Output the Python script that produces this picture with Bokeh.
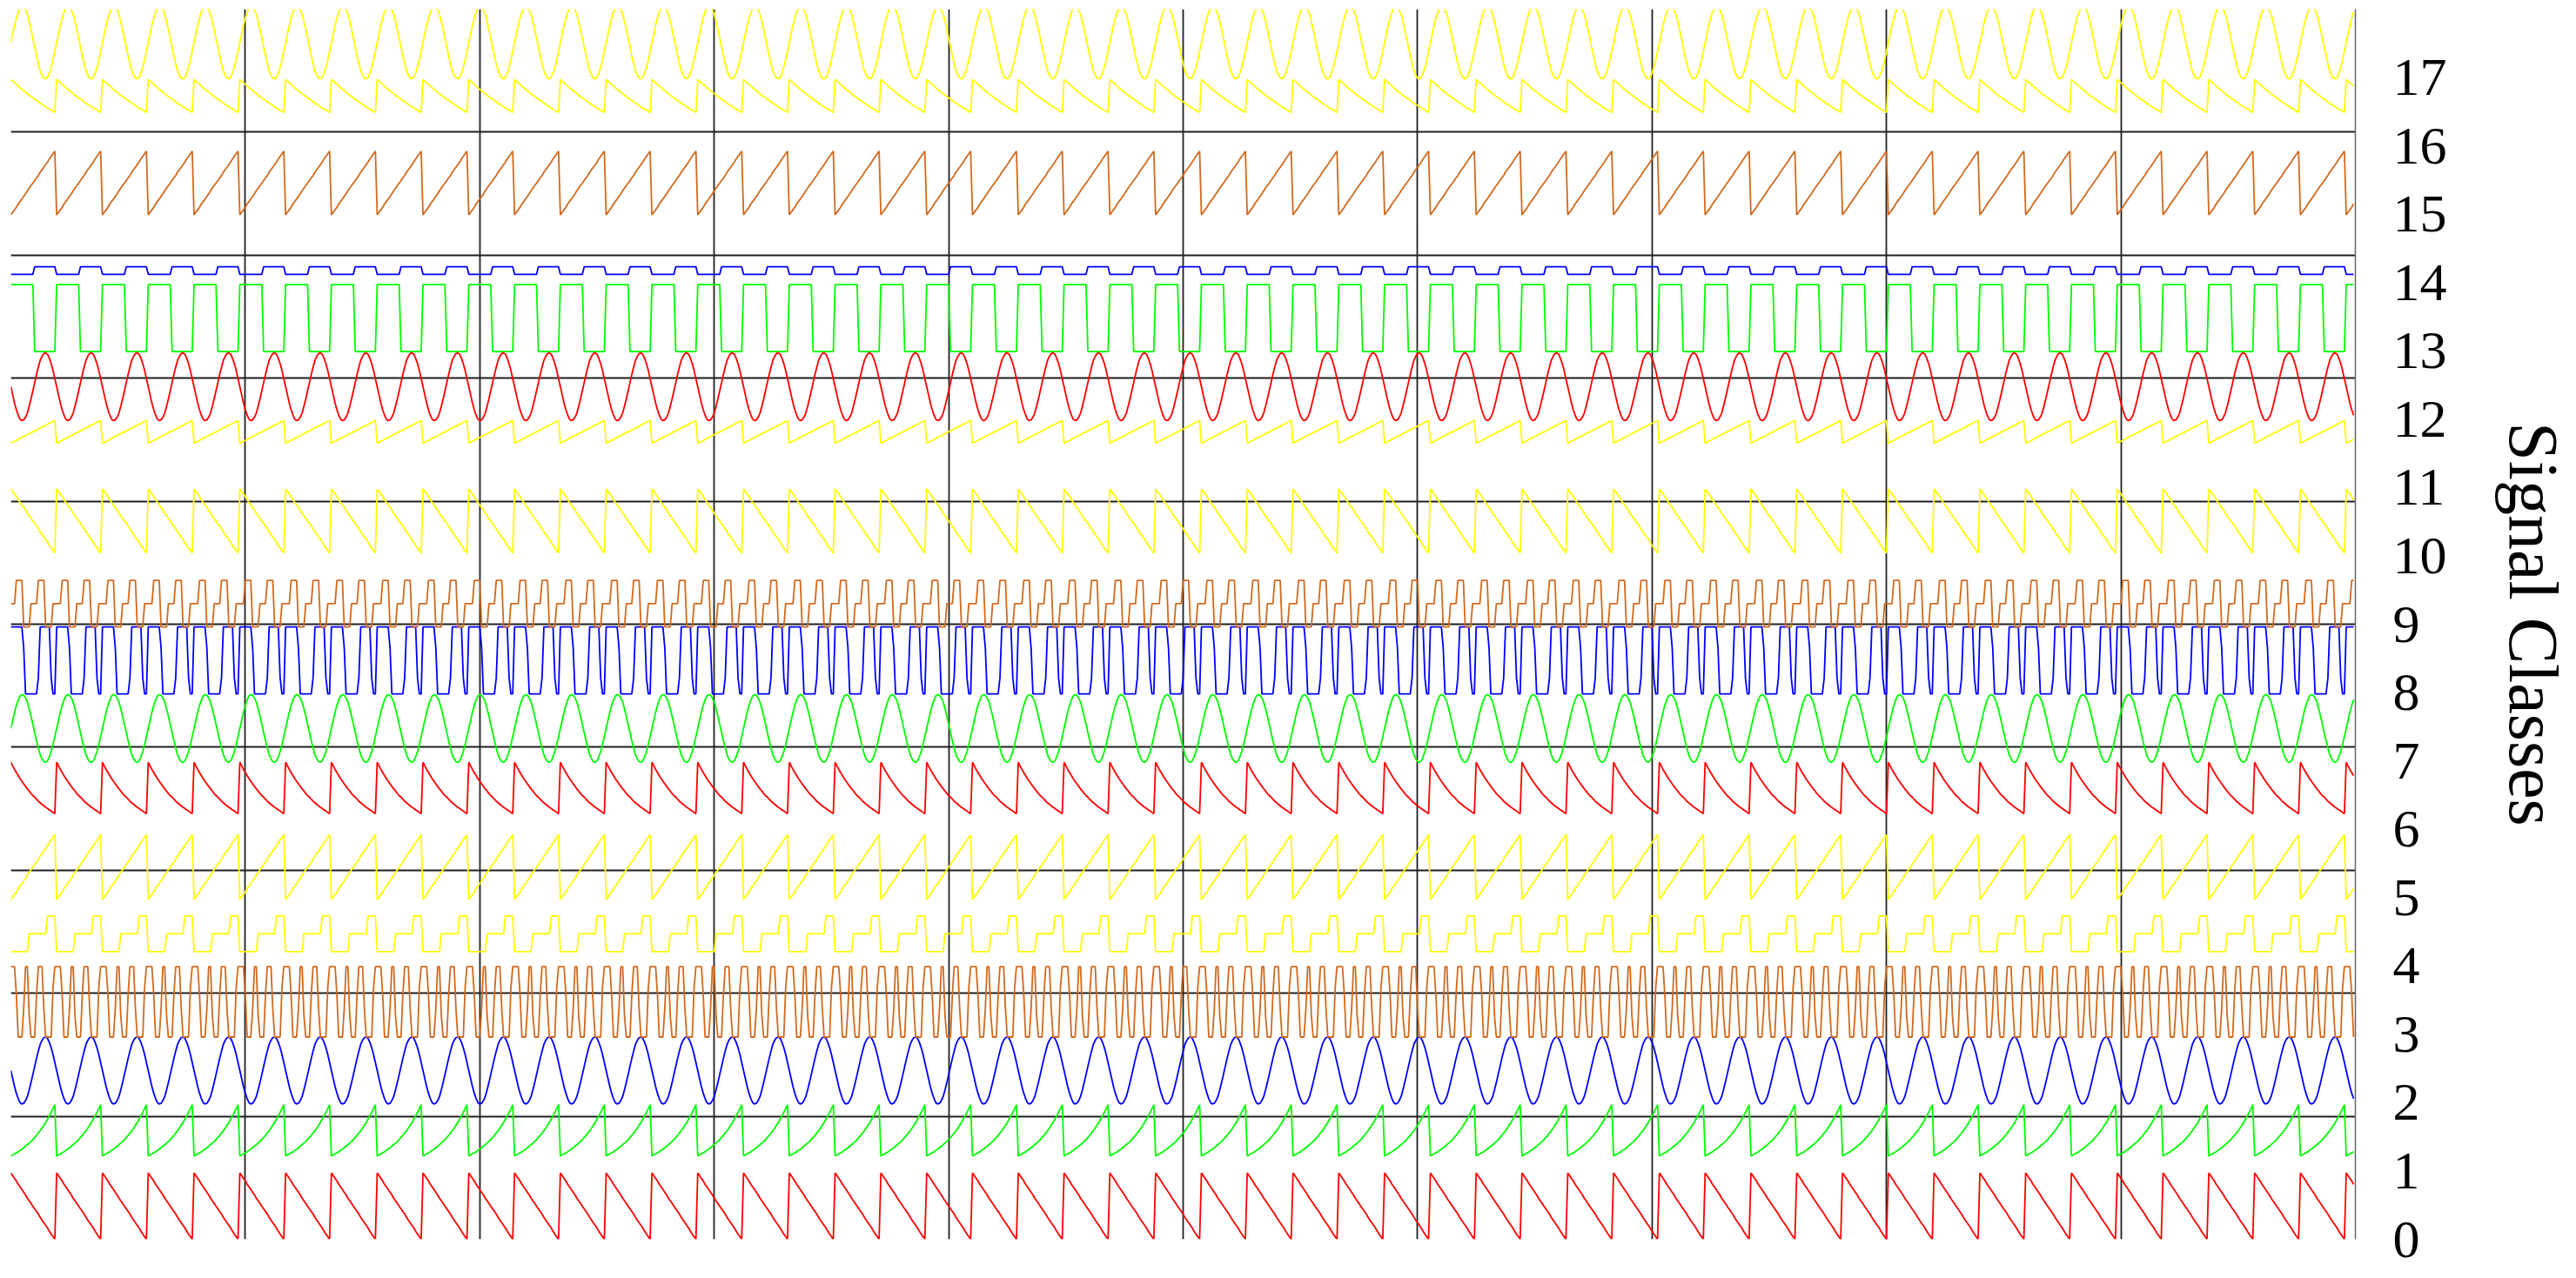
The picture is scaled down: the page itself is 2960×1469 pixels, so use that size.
import numpy as np
from bokeh.plotting import figure
from bokeh.models import Range1d, FixedTicker
from bokeh.embed import file_html
from bokeh.resources import INLINE

# ---- how the record is laid out ----
n_columns = 10            # x axis spans 10 blocks
samples_per_column = 128  # samples per block
cycle_length = 25         # samples per waveform cycle

# ---- classes / ticks ----
class_ids = list(range(18))
tick_labels = [str(c) for c in class_ids]
axis_title = "Signal Classes"
grid_rows = 10
y_top = 18

# ---- one cycle of each waveform (normalised 0..1) ----
saw_down = [1.00, 0.96, 0.92, 0.88, 0.83, 0.79, 0.75, 0.71, 0.67, 0.62, 0.58, 0.54, 0.50,
            0.46, 0.42, 0.38, 0.33, 0.29, 0.25, 0.21, 0.17, 0.12, 0.08, 0.04, 0.00]
saw_up = [0.00, 0.04, 0.08, 0.12, 0.17, 0.21, 0.25, 0.29, 0.33, 0.38, 0.42, 0.46, 0.50,
          0.54, 0.58, 0.62, 0.67, 0.71, 0.75, 0.79, 0.83, 0.88, 0.92, 0.96, 1.00]
exp_rise = [0.00, 0.02, 0.04, 0.06, 0.08, 0.11, 0.13, 0.16, 0.19, 0.22, 0.25, 0.28, 0.32,
            0.36, 0.40, 0.45, 0.49, 0.54, 0.60, 0.65, 0.72, 0.78, 0.85, 0.92, 1.00]
exp_decay = [1.00, 0.93, 0.86, 0.80, 0.74, 0.68, 0.63, 0.58, 0.53, 0.48, 0.44, 0.39, 0.35,
             0.32, 0.28, 0.24, 0.21, 0.18, 0.15, 0.12, 0.10, 0.07, 0.05, 0.02, 0.00]
soft_decay = [1.00, 0.95, 0.90, 0.85, 0.80, 0.75, 0.70, 0.66, 0.61, 0.57, 0.52, 0.48, 0.44,
              0.40, 0.36, 0.32, 0.28, 0.24, 0.21, 0.17, 0.13, 0.10, 0.07, 0.03, 0.00]
sine_up = [0.50, 0.62, 0.74, 0.84, 0.92, 0.98, 1.00, 0.99, 0.95, 0.89, 0.79, 0.68, 0.56,
           0.44, 0.32, 0.21, 0.11, 0.05, 0.01, 0.00, 0.02, 0.08, 0.16, 0.26, 0.38]
sine_down = [0.50, 0.38, 0.26, 0.16, 0.08, 0.02, 0.00, 0.01, 0.05, 0.11, 0.21, 0.32, 0.44,
             0.56, 0.68, 0.79, 0.89, 0.95, 0.99, 1.00, 0.98, 0.92, 0.84, 0.74, 0.62]
square_high_first = [1, 1, 1, 1, 1, 1, 1, 1, 1, 1, 1, 1, 1,
                     0, 0, 0, 0, 0, 0, 0, 0, 0, 0, 0, 0]
square_low_first = [0, 0, 0, 0, 0, 0, 0, 0, 0, 0, 0, 0, 0,
                    1, 1, 1, 1, 1, 1, 1, 1, 1, 1, 1, 1]
fast_square = [1.0, 1.0, 1.0, 0.6, 0.0, 0.0, 0.0, 0.4, 1.0, 1.0, 0.3, 0.0, 0.0,
               0.0, 0.6, 1.0, 1.0, 1.0, 0.4, 0.0, 0.0, 0.0, 0.0, 0.7, 1.0]
pwm = [1.0, 1.0, 1.0, 1.0, 1.0, 1.0, 1.0, 0.69, 0.0, 0.0, 0.0, 0.0, 0.0,
       0.0, 0.0, 0.24, 1.0, 1.0, 1.0, 1.0, 1.0, 1.0, 0.24, 0.0, 0.0]
staircase_long = [0, 0, 0, 0, 0, 0, 0, 0, 0, 0, 0.5, 0.5, 0.5,
                  0.5, 0.5, 0.5, 0.5, 0.5, 0.5, 0.5, 1, 1, 1, 1, 1]
staircase_double = [0.5, 0.5, 0.5, 1, 1, 1, 1, 0, 0, 0, 0, 0.5, 0.5,
                    0.5, 0.5, 1, 1, 1, 1, 0, 0, 0, 0, 0.5, 0.5]

class_cycle = [saw_down, exp_rise, sine_down, fast_square, staircase_long, saw_up,
               exp_decay, sine_up, pwm, staircase_double, saw_down, saw_up,
               sine_down, square_high_first, square_low_first, saw_up, soft_decay, sine_up]
class_low = [0.00, 1.22, 1.98, 2.96, 4.21, 4.97, 6.23, 6.98, 7.98, 8.96, 10.04, 11.65,
             11.98, 12.99, 14.12, 14.99, 16.49, 16.98]
class_high = [0.97, 1.97, 2.96, 3.99, 4.73, 5.92, 6.98, 7.97, 8.96, 9.64, 10.98, 11.98,
              12.97, 13.97, 14.23, 15.92, 16.97, 18.04]
class_colors = ["#ff0000", "#00ff00", "#0000ff", "#d2691e", "#ffff00", "#ffff00"] * 3

SERIF = "Liberation Serif"

p = figure(frame_width=2694, frame_height=1414,
           x_range=Range1d(0, n_columns), y_range=Range1d(0, y_top),
           x_axis_location=None, y_axis_location="right",
           output_backend="svg", toolbar_location=None,
           min_border_left=12, min_border_top=10, min_border_bottom=36,
           min_border_right=0)
p.outline_line_color = None
p.background_fill_color = "white"

# grid: 10 x 10 cells
p.xgrid.ticker = FixedTicker(ticks=list(range(1, n_columns)))
p.ygrid.ticker = FixedTicker(ticks=[y_top * i / grid_rows for i in range(1, grid_rows)])
for g in (p.xgrid, p.ygrid):
    g.grid_line_color = "#202020"
    g.grid_line_width = 1.8
    g.grid_line_alpha = 1.0

ax = p.yaxis[0]
ax.ticker = FixedTicker(ticks=class_ids)
ax.major_label_overrides = {c: t for c, t in zip(class_ids, tick_labels)}
ax.axis_label = axis_title
ax.axis_line_color = "#666666"
ax.axis_line_width = 1.5
ax.major_tick_line_color = None
ax.minor_tick_line_color = None
ax.major_tick_out = 0
ax.major_tick_in = 0
ax.major_label_standoff = 43
ax.major_label_text_font = SERIF
ax.major_label_text_font_size = "62px"
ax.major_label_text_color = "black"
ax.axis_label_text_font = SERIF
ax.axis_label_text_font_size = "80px"
ax.axis_label_text_font_style = "normal"
ax.axis_label_text_color = "black"
ax.axis_label_standoff = 52

n = np.arange(n_columns * samples_per_column)
x = n / samples_per_column
for c in class_ids:
    cyc = np.array(class_cycle[c], dtype=float)
    y = class_low[c] + (class_high[c] - class_low[c]) * cyc[n % cycle_length]
    p.line(x, y, line_color=class_colors[c], line_width=1.8)

open("out.html", "w").write(file_html(p, INLINE))
